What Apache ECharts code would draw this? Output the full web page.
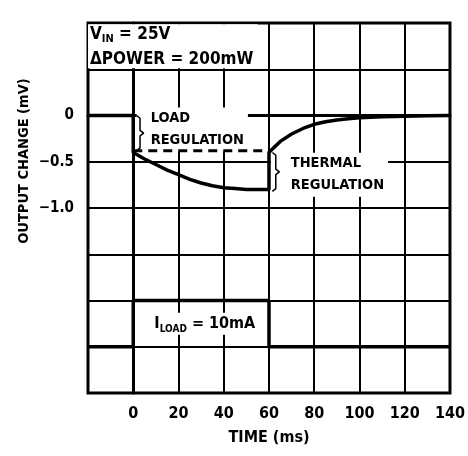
<!DOCTYPE html>
<html>
<head>
<meta charset="utf-8">
<script src="https://cdn.jsdelivr.net/npm/echarts@6/dist/echarts.min.js"></script>
<style>html,body{margin:0;padding:0;background:#fff}#c{width:468px;height:456px}</style>
</head>
<body>
<div id="c"></div>
<script>
// ---- data ----
var xTicks = [-20, 0, 20, 40, 60, 80, 100, 120, 140];
var yTickLabels = {"0": "0", "-0.5": "\u22120.5", "-1": "\u22121.0"};
var timeOut = [-20, 0, 0, 5, 10, 15, 20, 25, 30, 35, 40, 45, 50, 55, 60, 60, 62, 65, 70, 75, 80, 85, 90, 95, 100, 110, 120, 130, 140];
var outputChange = [0, 0, -0.4, -0.47, -0.53, -0.59, -0.64, -0.69, -0.73, -0.76, -0.78, -0.79, -0.8, -0.8, -0.8, -0.4, -0.35, -0.28, -0.2, -0.14, -0.095, -0.068, -0.048, -0.034, -0.024, -0.013, -0.007, -0.003, 0];
var timeDashed = [0, 60];
var loadRegLevel = [-0.38, -0.38];
var timeLoad = [-20, 0, 0, 60, 60, 140];
var loadLevel = [-2.5, -2.5, -2.0, -2.0, -2.5, -2.5];
var loadBracketX = [1.5, 3, 3, 4.6, 3, 3, 1.5];
var loadBracketY = [0.0, -0.03, -0.16, -0.19, -0.22, -0.35, -0.38];
var thermBracketX = [61.5, 63, 63, 64.6, 63, 63, 61.5];
var thermBracketY = [-0.40, -0.43, -0.58, -0.61, -0.64, -0.79, -0.82];
var notes = [
  {name: 'vin', x: -20, y: 0.75},
  {name: 'load', x: 1.5, y: -0.15},
  {name: 'therm', x: 60.8, y: -0.64},
  {name: 'iload', x: 8, y: -2.25}
];

var FONT = "'Liberation Sans Narrow', 'DejaVu Sans Condensed', 'Arial Narrow', sans-serif";
function pairs(xs, ys) { return xs.map(function (x, i) { return [x, ys[i]]; }); }

var chart = echarts.init(document.getElementById('c'), null, {renderer: 'canvas'});
var base = {fontFamily: FONT, fontWeight: 'bold', fontSize: 15, color: '#000'};
function st(o) { return Object.assign({}, base, o); }
var rich = {
  v: st({fontSize: 17, lineHeight: 21}),
  vs: st({fontSize: 11, lineHeight: 13, verticalAlign: 'bottom'}),
  w: st({fontSize: 17, lineHeight: 17, verticalAlign: 'bottom'}),
  sp: st({fontSize: 4, lineHeight: 23}),
  a: st({fontSize: 16, lineHeight: 22}),
  s: st({fontSize: 10, lineHeight: 12, verticalAlign: 'bottom'}),
  b: st({fontSize: 14.5, lineHeight: 22})
};
var noteText = {
  vin: '{v|V}{vs|IN}{v| = 25V}\n{w|\u0394POWER = 200mW}{sp| }',
  load: '{b|LOAD}\n{b|REGULATION}',
  therm: '{b|THERMAL}\n{b|REGULATION}',
  iload: '{a|I}{s|LOAD}{a| = 10mA}'
};
var notePad = {
  vin: [0, 3, 0, 2],
  load: [0, 4, 0, 14],
  therm: [0, 4, 0, 20],
  iload: [0, 3, 0, 3]
};

var option = {
  animation: false,
  backgroundColor: '#fff',
  grid: {left: 88, right: 11, top: 23, bottom: 63, show: true, borderColor: '#000', borderWidth: 3, backgroundColor: 'transparent'},
  xAxis: {
    type: 'value', min: -20, max: 140, interval: 20,
    name: 'TIME (ms)', nameLocation: 'middle', nameGap: 37, nameMoveOverlap: false,
    nameTextStyle: {fontFamily: FONT, fontWeight: 'bold', fontSize: 16, color: '#000'},
    axisLine: {show: true, lineStyle: {color: '#000', width: 3}},
    axisTick: {show: false},
    splitLine: {show: true, lineStyle: {color: '#000', width: 2}},
    axisLabel: {margin: 13, fontFamily: FONT, fontWeight: 'bold', fontSize: 16, color: '#000',
      formatter: function (v) { return v === xTicks[0] ? '' : String(v); }}
  },
  yAxis: {
    type: 'value', min: -3, max: 1, interval: 0.5,
    name: 'OUTPUT CHANGE (mV)', nameLocation: 'middle', nameGap: 56, nameRotate: 90, nameMoveOverlap: false,
    nameTextStyle: {fontFamily: FONT, fontWeight: 'bold', fontSize: 14.5, color: '#000', padding: [0, 0, 0, 94]},
    axisLine: {show: true, lineStyle: {color: '#000', width: 3}},
    axisTick: {show: false},
    splitLine: {show: true, lineStyle: {color: '#000', width: 2}},
    axisLabel: {margin: 14, fontFamily: FONT, fontWeight: 'bold', fontSize: 15, color: '#000',
      formatter: function (v) { var k = String(Math.round(v * 10) / 10); return yTickLabels[k] || ''; }}
  },
  series: [
    {
      type: 'scatter', z: 1, symbolSize: 0, silent: true,
      itemStyle: {opacity: 1},
      data: notes.map(function (n) {
        return {name: n.name, value: [n.x, n.y], label: {padding: notePad[n.name]}};
      }),
      label: {
        show: true, position: 'right', distance: 0, color: '#000', opacity: 1,
        backgroundColor: '#fff',
        formatter: function (p) { return noteText[p.name]; },
        rich: rich
      }
    },
    {type: 'line', z: 3, data: pairs(timeOut, outputChange), symbol: 'none', lineStyle: {color: '#000', width: 3.5}},
    {type: 'line', z: 3, data: pairs(timeDashed, loadRegLevel), symbol: 'none', lineStyle: {color: '#000', width: 3, type: [9, 6]}},
    {type: 'line', z: 3, data: pairs(timeLoad, loadLevel), symbol: 'none', lineStyle: {color: '#000', width: 3.5}},
    {type: 'line', z: 3, data: pairs(loadBracketX, loadBracketY), symbol: 'none', lineStyle: {color: '#000', width: 1.5}},
    {type: 'line', z: 3, data: pairs(thermBracketX, thermBracketY), symbol: 'none', lineStyle: {color: '#000', width: 1.5}}
  ]
};
chart.setOption(option);
</script>
</body>
</html>
